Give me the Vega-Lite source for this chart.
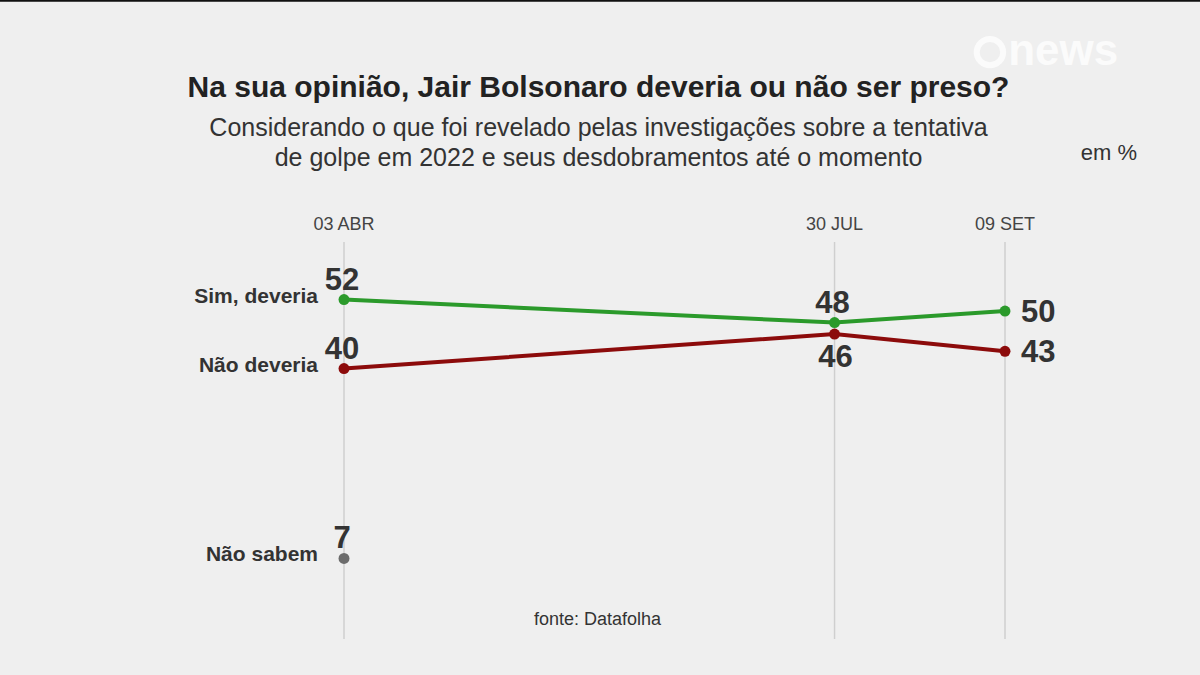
{
  "$schema": "https://vega.github.io/schema/vega-lite/v6.json",
  "width": 661,
  "height": 397,
  "autosize": {"type": "none"},
  "padding": {"left": 344, "right": 195, "top": 242, "bottom": 36},
  "background": "#efefef",
  "config": {
    "view": {"stroke": null},
    "font": "Liberation Sans",
    "text": {"font": "Liberation Sans"}
  },
  "title": {
    "text": "Na sua opinião, Jair Bolsonaro deveria ou não ser preso?",
    "subtitle": ["Considerando o que foi revelado pelas investigações sobre a tentativa", "de golpe em 2022 e seus desdobramentos até o momento"],
    "anchor": "middle",
    "frame": "group",
    "dx": -76,
    "offset": -172,
    "font": "Liberation Sans",
    "fontSize": 30,
    "fontWeight": "bold",
    "color": "#222222",
    "subtitleFont": "Liberation Sans",
    "subtitleFontSize": 25,
    "subtitleColor": "#333333",
    "subtitleLineHeight": 30,
    "subtitlePadding": 13
  },
  "datasets": {
    "serie": [
      {"data": "2025-04-03T12:00:00", "serie": "Sim, deveria", "valor": 52, "pos": "acima"},
      {"data": "2025-07-30T12:00:00", "serie": "Sim, deveria", "valor": 48, "pos": "acima"},
      {"data": "2025-09-09T12:00:00", "serie": "Sim, deveria", "valor": 50, "pos": "direita"},
      {"data": "2025-04-03T12:00:00", "serie": "Não deveria", "valor": 40, "pos": "acima"},
      {"data": "2025-07-30T12:00:00", "serie": "Não deveria", "valor": 46, "pos": "abaixo"},
      {"data": "2025-09-09T12:00:00", "serie": "Não deveria", "valor": 43, "pos": "direita"},
      {"data": "2025-04-03T12:00:00", "serie": "Não sabem", "valor": 7, "pos": "acima"}
    ],
    "datas": [
      {"data": "2025-04-03T12:00:00", "texto": "03 ABR"},
      {"data": "2025-07-30T12:00:00", "texto": "30 JUL"},
      {"data": "2025-09-09T12:00:00", "texto": "09 SET"}
    ],
    "notas": [
      {"data": "2025-10-04T12:00:00", "valor": 77.5, "texto": "em %", "tipo": "unidade"},
      {"data": "2025-06-03T12:00:00", "valor": -3.7, "texto": "fonte: Datafolha", "tipo": "fonte"},
      {"data": "2025-09-23T12:00:00", "valor": 95.0, "texto": "news", "tipo": "logo"}
    ],
    "logo": [
      {"data": "2025-09-05T21:00:00", "valor": 95.0}
    ],
    "faixa": [
      {"inicio": "2025-01-10T00:00:00", "fim": "2025-10-27T00:00:00", "valor": 104.0}
    ]
  },
  "encoding": {
    "x": {
      "field": "data",
      "type": "temporal",
      "axis": null,
      "scale": {"domain": [{"year": 2025, "month": 4, "date": 3, "hours": 12}, {"year": 2025, "month": 9, "date": 9, "hours": 12}]}
    }
  },
  "layer": [
    {
      "data": {"name": "datas"},
      "mark": {"type": "rule", "color": "#cfcfcf", "strokeWidth": 1.5},
      "encoding": {}
    },
    {
      "data": {"name": "faixa"},
      "mark": {"type": "rule", "color": "#111111", "strokeWidth": 3},
      "encoding": {
        "x": {"field": "inicio", "type": "temporal"},
        "x2": {"field": "fim"},
        "y": {"field": "valor", "type": "quantitative", "scale": {"domain": [-7, 62]}, "axis": null}
      }
    },
    {
      "data": {"name": "datas"},
      "mark": {"type": "text", "fontSize": 18, "color": "#444444", "baseline": "middle"},
      "encoding": {"y": {"datum": 65, "type": "quantitative", "scale": {"domain": [-7, 62]}, "axis": null}, "text": {"field": "texto"}}
    },
    {
      "data": {"name": "serie"},
      "layer": [
        {
          "mark": {"type": "line", "strokeWidth": 4},
          "encoding": {
            "y": {"field": "valor", "type": "quantitative", "scale": {"domain": [-7, 62]}, "axis": null},
            "color": {"field": "serie", "type": "nominal", "legend": null, "scale": {"domain": ["Sim, deveria", "Não deveria", "Não sabem"], "range": ["#2b9a2b", "#8c0b0b", "#6c6c6c"]}}
          }
        },
        {
          "mark": {"type": "point", "filled": true, "size": 120, "opacity": 1},
          "encoding": {
            "y": {"field": "valor", "type": "quantitative", "scale": {"domain": [-7, 62]}, "axis": null},
            "color": {"field": "serie", "type": "nominal", "legend": null}
          }
        },
        {
          "transform": [{"filter": "month(datum.data) == 3"}],
          "mark": {"type": "text", "fontSize": 21, "fontWeight": "bold", "color": "#333333", "align": "right", "baseline": "middle", "dx": -26, "dy": -3},
          "encoding": {"y": {"field": "valor", "type": "quantitative", "scale": {"domain": [-7, 62]}, "axis": null}, "text": {"field": "serie"}}
        },
        {
          "transform": [{"filter": "datum.pos == 'acima'"}],
          "mark": {"type": "text", "fontSize": 31, "fontWeight": "bold", "color": "#333333", "align": "center", "baseline": "middle", "dx": -2, "dy": -19},
          "encoding": {"y": {"field": "valor", "type": "quantitative", "scale": {"domain": [-7, 62]}, "axis": null}, "text": {"field": "valor"}}
        },
        {
          "transform": [{"filter": "datum.pos == 'abaixo'"}],
          "mark": {"type": "text", "fontSize": 31, "fontWeight": "bold", "color": "#333333", "align": "center", "baseline": "middle", "dx": 1, "dy": 24},
          "encoding": {"y": {"field": "valor", "type": "quantitative", "scale": {"domain": [-7, 62]}, "axis": null}, "text": {"field": "valor"}}
        },
        {
          "transform": [{"filter": "datum.pos == 'direita'"}],
          "mark": {"type": "text", "fontSize": 31, "fontWeight": "bold", "color": "#333333", "align": "left", "baseline": "middle", "dx": 16, "dy": 2},
          "encoding": {"y": {"field": "valor", "type": "quantitative", "scale": {"domain": [-7, 62]}, "axis": null}, "text": {"field": "valor"}}
        }
      ]
    },
    {
      "data": {"name": "notas"},
      "transform": [{"filter": "datum.tipo != 'logo'"}],
      "mark": {"type": "text", "color": "#333333", "baseline": "middle"},
      "encoding": {
        "y": {"field": "valor", "type": "quantitative", "scale": {"domain": [-7, 62]}, "axis": null},
        "text": {"field": "texto"},
        "size": {"field": "tipo", "type": "nominal", "legend": null, "scale": {"domain": ["unidade", "fonte"], "range": [22, 18]}}
      }
    },
    {
      "data": {"name": "notas"},
      "transform": [{"filter": "datum.tipo == 'logo'"}],
      "mark": {"type": "text", "color": "#fbfbfb", "baseline": "middle", "fontSize": 44, "fontWeight": "bold"},
      "encoding": {
        "y": {"field": "valor", "type": "quantitative", "scale": {"domain": [-7, 62]}, "axis": null},
        "text": {"field": "texto"}
      }
    },
    {
      "data": {"name": "logo"},
      "mark": {"type": "point", "shape": "circle", "filled": false, "stroke": "#fbfbfb", "strokeWidth": 6, "size": 700, "opacity": 1},
      "encoding": {
        "y": {"field": "valor", "type": "quantitative", "scale": {"domain": [-7, 62]}, "axis": null}
      }
    }
  ]
}
